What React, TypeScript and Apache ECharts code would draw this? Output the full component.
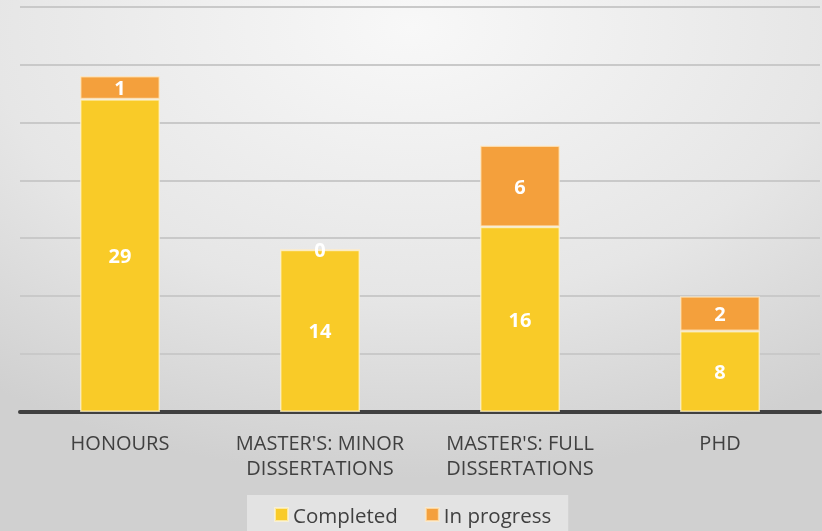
import React, { useEffect, useRef } from "react";
import * as echarts from "echarts";

const categories = ["HONOURS", "MASTER'S: MINOR\nDISSERTATIONS", "MASTER'S: FULL\nDISSERTATIONS", "PHD"];
// bar heights as drawn in the picture
const completed = [27, 14, 16, 7];
const inProgress = [2, 0, 7, 3];
// numbers printed on the bars
const completedLabels = ["29", "14", "16", "8"];
const inProgressLabels = ["1", "0", "6", "2"];
const seriesNames = ["Completed", "In progress"];

const FONT = "'Open Sans', 'Noto Sans', sans-serif";

export default function App() {
  const ref = useRef<HTMLDivElement>(null);
  useEffect(() => {
    document.body.style.margin = "0";
    const chart = echarts.init(ref.current!, null, { renderer: "svg" });
    const labelStyle = {
      show: true,
      position: "inside",
      color: "#ffffff",
      fontFamily: FONT,
      fontWeight: "bold",
      fontSize: 20,
    };
    chart.setOption({
      animation: false,
      backgroundColor: new echarts.graphic.RadialGradient(0.5, 0.05, 0.85, [
        { offset: 0, color: "#f8f8f8" },
        { offset: 0.6, color: "#e6e6e6" },
        { offset: 1, color: "#d0d0d0" },
      ]),
      grid: { left: 20, right: 2, top: 6.5, bottom: 119, containLabel: false },
      legend: {
        data: seriesNames,
        left: 247,
        top: 495,
        padding: [9, 17, 14, 27],
        backgroundColor: "#e3e3e3",
        itemWidth: 13,
        itemHeight: 13,
        itemGap: 27,
        icon: "rect",
        textStyle: { fontFamily: FONT, fontSize: 20.5, color: "#404040" },
      },
      xAxis: {
        type: "category",
        data: categories,
        axisLine: { show: true, lineStyle: { color: "#404040", width: 4 } },
        axisTick: { show: false },
        axisLabel: {
          interval: 0,
          margin: 18,
          color: "#404040",
          fontFamily: FONT,
          fontSize: 20,
          lineHeight: 25,
        },
      },
      yAxis: {
        type: "value",
        min: 0,
        max: 35,
        interval: 5,
        axisLabel: { show: false },
        axisLine: { show: false },
        axisTick: { show: false },
        splitLine: { lineStyle: { color: "#c9c9c9", width: 2 } },
      },
      series: [
        {
          name: seriesNames[0],
          type: "bar",
          stack: "total",
          barWidth: 80,
          data: completed,
          itemStyle: { color: "#f9cb28", borderColor: "rgba(255,245,210,0.7)", borderWidth: 1.5 },
          label: { ...labelStyle, formatter: (p: any) => completedLabels[p.dataIndex] },
        },
        {
          name: seriesNames[1],
          type: "bar",
          stack: "total",
          barWidth: 80,
          data: inProgress,
          itemStyle: { color: "#f4a03c", borderColor: "rgba(255,235,200,0.7)", borderWidth: 1.5 },
          label: { ...labelStyle, formatter: (p: any) => inProgressLabels[p.dataIndex] },
        },
      ],
    });
    return () => chart.dispose();
  }, []);
  return (
    <div
      ref={ref}
      style={{ position: "fixed", left: 0, top: 0, width: 822, height: 531 }}
    />
  );
}
